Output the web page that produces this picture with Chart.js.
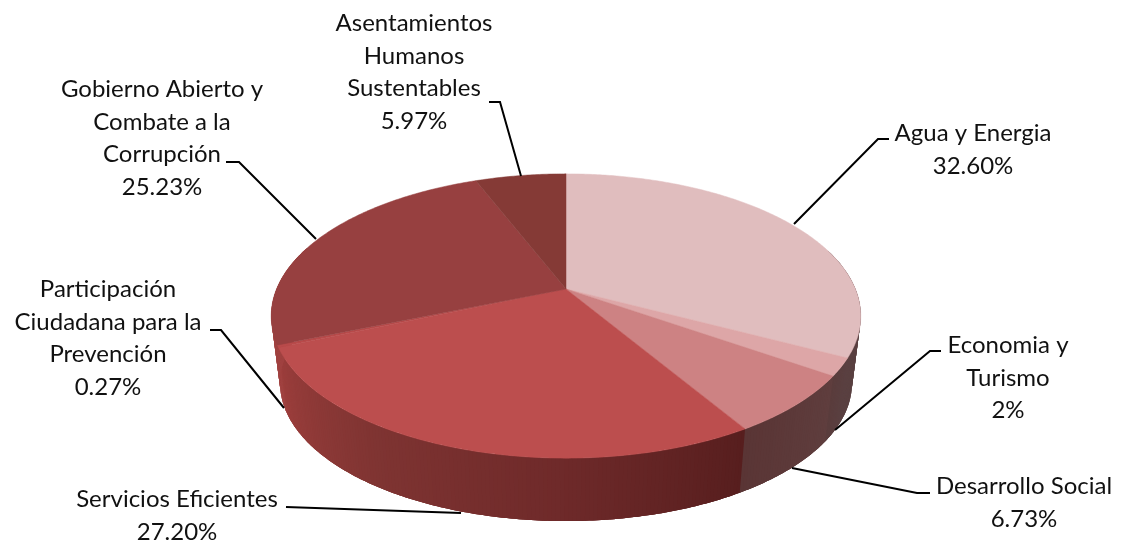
<!DOCTYPE html>
<html><head><meta charset="utf-8">
<style>html,body{margin:0;padding:0;background:#fff}canvas{display:block}</style>
<script src="https://cdn.jsdelivr.net/npm/chart.js@4"></script>
</head><body><canvas id="c" width="1122" height="542"></canvas>
<script>
const categories=["Agua y Energia","Economia y Turismo","Desarrollo Social","Servicios Eficientes","Participación Ciudadana para la Prevención","Gobierno Abierto y Combate a la Corrupción","Asentamientos Humanos Sustentables"];
const values=[32.60,2,6.73,27.20,0.27,25.23,5.97];
const valueLabels=["32.60%","2%","6.73%","27.20%","0.27%","25.23%","5.97%"];
const labelLines=[["Agua y Energia"],["Economia y","Turismo"],["Desarrollo Social"],["Servicios Eficientes"],["Participación","Ciudadana para la","Prevención"],["Gobierno Abierto y","Combate a la","Corrupción"],["Asentamientos","Humanos","Sustentables"]];
const topColors=["#E0BDBE","#DDA6A7","#CD8283","#BC4E4E","#B84A4A","#974040","#853A36"];
const sideStops=[["#5E4647","#5A4041"],["#5A4041","#5A3C3C"],["#5F3E3E","#5A3535"],["#571E1E","#6F2A2A","#7F3432","#9C3E3C"],["#9C3E3C","#A04240"],["#A04240","#A04240"],["#853A36","#853A36"]];
const labelAnchors=[[973,141],[1008,353],[1024,494],[177,507],[108,297],[162,97],[414,31]];
const leaders=[[[889,139],[878,139],[794,224]],[[941,351],[930,351],[835,430]],[[930,493],[917,493],[792,468]],[[286,507],[461,513]],[[210,330],[221,330],[284,408]],[[226,162],[239,162],[316,239]],[[489,102],[500,102],[521,176]]];
const view={cx:566,cy:289,R:289.4,S:137,k:0.19,bottomScale:0.97,bottomCy:357};
const font={family:"Lato",size:24,line:32.5};
function proj(a,bottom){
  const u=Math.cos(a),v=Math.sin(a),w=1-view.k*v;
  const s=bottom?view.bottomScale:1,cy=bottom?view.bottomCy:view.cy;
  return [view.cx+s*view.R*u/w,cy+s*view.S*v/w];
}
function hex(c){return [1,3,5].map(i=>parseInt(c.substr(i,2),16));}
function mix(stops,t){
  const n=stops.length-1,p=Math.min(n-1e-6,Math.max(0,t*n)),i=Math.floor(p),f=p-i;
  const A=hex(stops[i]),B=hex(stops[i+1]);
  return "rgb("+A.map((x,j)=>Math.round(x+(B[j]-x)*f)).join(",")+")";
}
const pie3d={id:"pie3d",
 beforeDatasetsDraw(chart){
  const ctx=chart.ctx,arcs=chart.getDatasetMeta(0).data;
  ctx.save();
  // side wall: overlapping opaque strips, later strips paint over earlier ones
  arcs.forEach((arc,i)=>{
    const a0=arc.startAngle,a1=arc.endAngle,n=Math.max(2,Math.ceil((a1-a0)/0.012)),st=(a1-a0)/n;
    for(let j=0;j<n;j++){
      const b0=a0+st*j,b1=b0+st*3;
      if(Math.sin(b0+st/2)<-0.3)continue;
      ctx.beginPath();
      ctx.moveTo(...proj(b0,false));
      for(let q=1;q<=3;q++)ctx.lineTo(...proj(b0+st*q,false));
      for(let q=3;q>=0;q--)ctx.lineTo(...proj(b0+st*q,true));
      ctx.closePath();
      ctx.fillStyle=mix(sideStops[i],(j+.5)/n);ctx.fill();
    }
  });
  // top face
  arcs.forEach((arc,i)=>{
    const a0=arc.startAngle,a1=arc.endAngle,n=Math.max(2,Math.ceil((a1-a0)/0.01));
    ctx.beginPath();ctx.moveTo(view.cx,view.cy);
    for(let j=0;j<=n;j++)ctx.lineTo(...proj(a0+(a1-a0)*j/n,false));
    ctx.closePath();
    ctx.fillStyle=topColors[i];ctx.strokeStyle=topColors[i];ctx.lineWidth=.5;ctx.fill();ctx.stroke();
  });
  // leaders
  ctx.strokeStyle="#000";ctx.lineWidth=2;ctx.lineJoin="miter";
  leaders.forEach(l=>{ctx.beginPath();ctx.moveTo(...l[0]);l.slice(1).forEach(p=>ctx.lineTo(...p));ctx.stroke();});
  // labels
  ctx.fillStyle="#111";ctx.textAlign="center";ctx.textBaseline="alphabetic";
  ctx.font=font.size+"px "+font.family;
  labelLines.forEach((ls,i)=>{
    const [x,y]=labelAnchors[i];
    ls.concat(valueLabels[i]).forEach((t,j)=>ctx.fillText(t,x,y+j*font.line));
  });
  ctx.restore();
  return false;
 }
};
new Chart(document.getElementById("c"),{
 type:"pie",
 data:{labels:categories,datasets:[{data:values,backgroundColor:topColors,borderWidth:0}]},
 options:{responsive:false,animation:false,events:[],plugins:{legend:{display:false},tooltip:{enabled:false}}},
 plugins:[pie3d]
});
</script></body></html>
